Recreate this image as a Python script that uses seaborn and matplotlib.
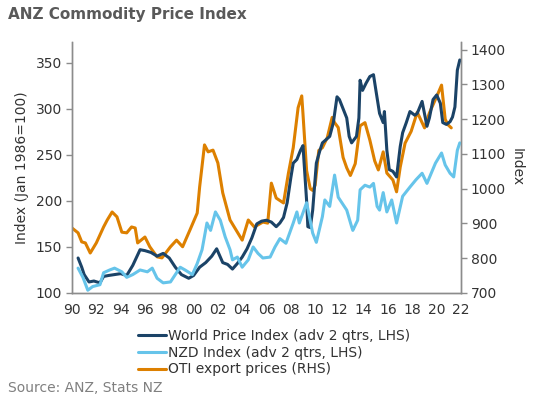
import matplotlib
matplotlib.use("Agg")
import matplotlib.pyplot as plt
import seaborn as sns

# World Price Index (adv 2 qtrs, LHS)
world_years = [1990.5, 1990.8, 1991.0, 1991.4, 1991.8, 1992.3, 1992.6, 1993.0, 1993.5, 1994.0,
               1994.5, 1995.0, 1995.6, 1996.0, 1996.5, 1997.0, 1997.5, 1998.0, 1998.5, 1999.0,
               1999.6, 2000.0, 2000.5, 2001.0, 2001.5, 2001.9, 2002.4, 2002.8, 2003.2, 2003.6,
               2004.0, 2004.4, 2004.8, 2005.2, 2005.6, 2006.0, 2006.4, 2006.8, 2007.1, 2007.4,
               2007.7, 2008.0, 2008.2, 2008.5, 2008.8, 2009.0, 2009.3, 2009.4, 2009.6, 2009.8,
               2010.1, 2010.4, 2010.6, 2011.2, 2011.5, 2011.8, 2012.0, 2012.3, 2012.6, 2012.8,
               2013.0, 2013.4, 2013.6, 2013.7, 2013.9, 2014.2, 2014.5, 2014.8, 2015.0, 2015.3,
               2015.6, 2015.7, 2015.9, 2016.1, 2016.4, 2016.7, 2017.0, 2017.2, 2017.5, 2017.8,
               2018.2, 2018.4, 2018.8, 2019.2, 2019.4, 2019.7, 2020.0, 2020.3, 2020.5, 2020.8,
               2021.1, 2021.3, 2021.5, 2021.7, 2021.9]
world_vals = [138, 128, 120, 112, 113, 111, 118, 119, 120, 121,
              119, 130, 147, 146, 144, 140, 143, 138, 128, 120,
              116, 119, 128, 133, 140, 148, 133, 131, 126, 132,
              139, 148, 160, 175, 178, 179, 177, 172, 176, 182,
              198, 225, 241, 245, 255, 260, 200, 172, 171, 190,
              241, 255, 263, 270, 285, 313, 310, 300, 290, 270,
              263, 270, 290, 331, 320, 328, 335, 337, 320, 295,
              285, 297, 255, 234, 232, 226, 259, 274, 285, 297,
              293, 295, 308, 281, 290, 310, 315, 306, 285, 283,
              286, 291, 302, 342, 353]

# NZD Index (adv 2 qtrs, LHS)
nzd_years = [1990.5, 1990.9, 1991.3, 1991.7, 1992.3, 1992.6, 1993.1, 1993.5, 1994.1, 1994.5,
             1995.0, 1995.6, 1996.2, 1996.6, 1997.0, 1997.5, 1998.1, 1998.5, 1998.9, 1999.3,
             1999.9, 2000.3, 2000.7, 2001.1, 2001.4, 2001.8, 2002.2, 2002.6, 2003.0, 2003.2,
             2003.6, 2004.0, 2004.5, 2004.9, 2005.3, 2005.7, 2006.3, 2006.7, 2007.1, 2007.6,
             2008.2, 2008.5, 2008.7, 2009.3, 2009.8, 2010.1, 2010.6, 2010.8, 2011.2, 2011.6,
             2011.9, 2012.2, 2012.6, 2013.0, 2013.1, 2013.5, 2013.7, 2014.1, 2014.5, 2014.8,
             2015.1, 2015.3, 2015.6, 2015.9, 2016.3, 2016.7, 2017.2, 2017.8, 2018.3, 2018.8,
             2019.2, 2019.9, 2020.4, 2020.7, 2021.1, 2021.4, 2021.7, 2021.9]
nzd_vals = [127, 117, 103, 107, 109, 122, 125, 127, 123, 117,
            120, 125, 123, 127, 116, 111, 112, 120, 128, 125,
            120, 132, 147, 176, 168, 188, 179, 161, 147, 136,
            139, 128, 136, 150, 143, 138, 139, 150, 159, 154,
            176, 188, 176, 198, 165, 155, 183, 201, 194, 228,
            204, 198, 190, 172, 168, 179, 212, 217, 215, 219,
            194, 190, 209, 188, 201, 176, 205, 215, 223, 230,
            219, 241, 252, 239, 230, 226, 255, 263]

# OTI export prices (RHS)
oti_years = [1990.0, 1990.5, 1990.8, 1991.1, 1991.5, 1992.0, 1992.6, 1992.9, 1993.3, 1993.7,
             1994.1, 1994.5, 1994.9, 1995.2, 1995.4, 1996.0, 1996.4, 1997.0, 1997.4, 1998.1,
             1998.6, 1999.1, 1999.7, 2000.3, 2000.5, 2000.9, 2001.2, 2001.6, 2002.0, 2002.4,
             2003.0, 2003.5, 2004.0, 2004.5, 2005.0, 2005.7, 2006.1, 2006.4, 2006.8, 2007.4,
             2007.8, 2008.2, 2008.6, 2008.9, 2009.0, 2009.3, 2009.6, 2009.8, 2010.0, 2010.3,
             2010.6, 2011.0, 2011.4, 2011.6, 2011.9, 2012.3, 2012.6, 2012.9, 2013.3, 2013.7,
             2014.1, 2014.5, 2014.9, 2015.2, 2015.6, 2015.9, 2016.4, 2016.7, 2017.0, 2017.4,
             2017.9, 2018.4, 2019.0, 2019.4, 2020.0, 2020.4, 2020.7, 2020.9, 2021.2]
oti_vals = [887, 873, 847, 844, 815, 844, 890, 910, 933, 919,
            875, 873, 890, 887, 844, 861, 833, 804, 801, 833,
            852, 833, 881, 930, 1005, 1126, 1106, 1111, 1074, 988,
            910, 881, 852, 910, 890, 904, 901, 1016, 973, 959,
            1044, 1118, 1233, 1267, 1216, 1052, 1000, 995, 1010, 1110,
            1118, 1147, 1205, 1190, 1176, 1090, 1060, 1038, 1072, 1181,
            1190, 1140, 1080, 1054, 1106, 1045, 1025, 991, 1062, 1131,
            1165, 1220, 1175, 1218, 1265, 1298, 1200, 1185, 1175]

x_ticks = list(range(1990, 2023, 2))
x_labels = [f"{y % 100:02d}" for y in x_ticks]

navy = "#1b4367"
light_blue = "#66c4ea"
orange = "#dd8000"
spine_col = "#8c8c8c"
text_col = "#333333"
fs = 10

sns.set_theme(style="white")
plt.rcParams["font.family"] = ["DejaVu Sans"]

fig = plt.figure(figsize=(5.37, 4.01), dpi=100)
ax = fig.add_axes([72 / 537, 1 - 293 / 401, (461 - 72) / 537, (293 - 42) / 401])
ax2 = ax.twinx()

sns.lineplot(x=world_years, y=world_vals, ax=ax, color=navy, linewidth=2.2,
             label="World Price Index (adv 2 qtrs, LHS)", legend=False)
sns.lineplot(x=nzd_years, y=nzd_vals, ax=ax, color=light_blue, linewidth=2.2,
             label="NZD Index (adv 2 qtrs, LHS)", legend=False)
sns.lineplot(x=oti_years, y=oti_vals, ax=ax2, color=orange, linewidth=2.2,
             label="OTI export prices (RHS)", legend=False)

# draw LHS lines above the orange one
ax.set_zorder(ax2.get_zorder() + 1)
ax.patch.set_visible(False)

ax.set_xlim(1990, 2022)
ax.set_ylim(100, 372.5)
ax2.set_ylim(700, 1422)
ax.set_xticks(x_ticks)
ax.set_xticklabels(x_labels)
ax.set_yticks(range(100, 351, 50))
ax2.set_yticks(range(700, 1401, 100))

for a in (ax, ax2):
    a.spines["top"].set_visible(False)
    for s in ("left", "right", "bottom"):
        a.spines[s].set_color(spine_col)
        a.spines[s].set_linewidth(1.0)
    a.tick_params(axis="both", direction="out", length=4, width=1, color=spine_col,
                  labelsize=fs, labelcolor=text_col, pad=3)
    a.grid(False)

ax.set_ylabel("Index (Jan 1986=100)", fontsize=fs, color=text_col, labelpad=5)
ax2.set_ylabel("Index", fontsize=fs, color=text_col, rotation=270, labelpad=13)
ax.set_xlabel("")

h1, l1 = ax.get_legend_handles_labels()
h2, l2 = ax2.get_legend_handles_labels()
fig.legend(h1 + h2, l1 + l2, loc="upper center", bbox_to_anchor=(274 / 537, 1 - 322 / 401),
           frameon=False, fontsize=fs, handlelength=2.0, handletextpad=0.15,
           labelspacing=0.2, borderpad=0, labelcolor=text_col)

fig.text(8 / 537, 1 - 14 / 401, "ANZ Commodity Price Index", fontsize=11,
         fontweight="bold", color="#595959", va="center", ha="left")
fig.text(8 / 537, 1 - 388 / 401, "Source: ANZ, Stats NZ", fontsize=fs,
         color="#808080", va="center", ha="left")

fig.savefig("out.png", dpi=100)
